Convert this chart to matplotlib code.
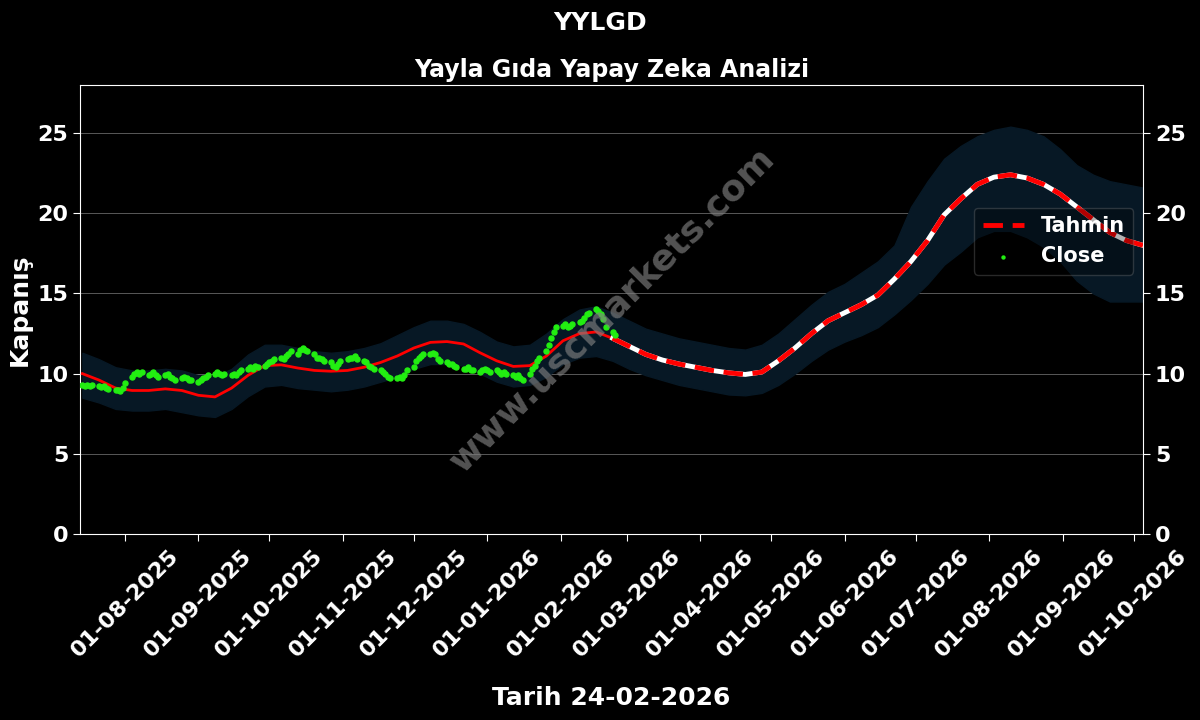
import matplotlib
matplotlib.use("Agg")
import matplotlib.pyplot as plt
import matplotlib.dates as mdates
import pandas as pd

# weekly forecast line and band
pred_start = "2025-07-14"
pred = [10.0, 9.6, 9.1, 8.95, 8.95, 9.05, 8.95, 8.65, 8.55, 9.1,
        9.9, 10.5, 10.55, 10.35, 10.2, 10.15, 10.2, 10.4, 10.7, 11.1,
        11.6, 11.95, 12.0, 11.85, 11.3, 10.8, 10.45, 10.5, 11.1, 12.05,
        12.5, 12.6, 12.2, 11.7, 11.2, 10.85, 10.6, 10.4, 10.2, 10.05,
        9.95, 10.1, 10.8, 11.6, 12.5, 13.3, 13.8, 14.3, 14.9, 15.9,
        17.0, 18.3, 19.9, 20.9, 21.8, 22.25, 22.4, 22.2, 21.8, 21.2,
        20.4, 19.6, 18.8, 18.3, 18.0]
band_hi = [11.3, 10.9, 10.4, 10.2, 10.2, 10.3, 10.2, 9.9, 9.8, 10.3,
           11.2, 11.8, 11.8, 11.6, 11.4, 11.3, 11.4, 11.6, 11.9, 12.4,
           12.9, 13.3, 13.3, 13.1, 12.6, 12.0, 11.7, 11.8, 12.5, 13.4,
           14.0, 14.2, 13.8, 13.3, 12.8, 12.5, 12.2, 12.0, 11.8, 11.6,
           11.5, 11.8, 12.5, 13.4, 14.3, 15.1, 15.6, 16.3, 17.0, 18.0,
           20.4, 22.0, 23.4, 24.2, 24.8, 25.2, 25.4, 25.2, 24.8, 24.0,
           23.0, 22.4, 22.0, 21.8, 21.6]
band_lo = [8.5, 8.2, 7.8, 7.7, 7.7, 7.8, 7.6, 7.4, 7.3, 7.8,
           8.6, 9.2, 9.3, 9.1, 9.0, 8.9, 9.0, 9.2, 9.5, 9.8,
           10.3, 10.6, 10.6, 10.5, 10.0, 9.5, 9.2, 9.3, 9.8, 10.6,
           11.0, 11.1, 10.8, 10.3, 9.9, 9.6, 9.3, 9.1, 8.9, 8.7,
           8.65, 8.8, 9.3, 10.0, 10.8, 11.5, 12.0, 12.4, 12.9, 13.7,
           14.6, 15.6, 16.8, 17.6, 18.5, 18.9, 18.9, 18.5, 17.9, 17.0,
           15.8, 15.0, 14.5, 14.5, 14.5]

# daily close (business days)
close_start = "2025-07-14"
close = [9.3, 9.2, 9.3, 9.25, 9.3,
         9.2, 9.15, 9.2, 9.1, 9.05,
         9.0, 8.95, 8.9, 9.1, 9.4,
         9.8, 10.0, 10.1, 10.0, 10.1,
         9.9, 10.0, 10.1, 9.9, 9.8,
         9.9, 10.0, 9.8, 9.7, 9.6,
         9.7, 9.8, 9.7, 9.6, 9.6,
         9.5, 9.6, 9.7, 9.8, 9.9,
         10.0, 10.1, 10.0, 9.9, 10.0,
         9.9, 10.0, 9.9, 10.1, 10.2,
         10.3, 10.4, 10.3, 10.5, 10.4,
         10.5, 10.6, 10.7, 10.8, 10.9,
         11.0, 10.9, 11.1, 11.2, 11.4,
         11.2, 11.5, 11.6, 11.5, 11.4,
         11.2, 11.0, 11.0, 10.9, 10.8,
         10.7, 10.5, 10.4, 10.6, 10.8,
         10.9, 11.0, 11.0, 11.1, 10.9,
         10.8, 10.7, 10.5, 10.4, 10.3,
         10.2, 10.1, 10.0, 9.8, 9.7,
         9.7, 9.8, 9.7, 9.9, 10.2,
         10.4, 10.8, 11.0, 11.1, 11.2,
         11.2, 11.3, 11.2, 10.9, 10.8,
         10.7, 10.6, 10.6, 10.5, 10.4,
         10.3, 10.3, 10.4, 10.2, 10.2,
         10.1, 10.2, 10.3, 10.2, 10.1,
         10.2, 10.1, 10.0, 10.1, 10.0,
         9.9, 9.8, 9.9, 9.7, 9.6,
         10.0, 10.3, 10.5, 10.8, 11.0,
         11.4, 11.8, 12.2, 12.6, 12.9,
         13.0, 13.1, 12.9, 13.0, 13.1,
         13.2, 13.3, 13.5, 13.7, 13.8,
         14.0, 13.9, 13.7, 13.4, 12.9,
         12.6, 12.4]

pred_dates = pd.date_range(pred_start, periods=len(pred), freq="7D")
close_dates = pd.bdate_range(close_start, periods=len(close))
split = close_dates[-1]

plt.rcParams["font.weight"] = "bold"
fig = plt.figure(figsize=(12, 7.2), dpi=100, facecolor="black")
ax = fig.add_axes([0.0667, 0.2583, 0.8858, 0.6237])
ax.set_facecolor("black")

ax.fill_between(pred_dates, band_lo, band_hi, color="#071825", zorder=1)

s = pd.Series(pred, index=pred_dates)
past = s[s.index <= split + pd.Timedelta(days=7)]
fut = s[s.index >= split - pd.Timedelta(days=1)]
ax.plot(past.index, past.values, color="red", lw=2, zorder=3)
ax.plot(fut.index, fut.values, color="white", lw=3.5, zorder=3)
ax.plot(fut.index, fut.values, color="red", lw=3.5, ls="--", dashes=(4, 2),
        zorder=4, label="Tahmin")
ax.scatter(close_dates, close, color="#22ee11", s=13, zorder=5, label="Close")

ax.set_xlim(pd.Timestamp("2025-07-13"), pd.Timestamp("2026-10-05"))
ax.set_ylim(0, 28)
ax.set_yticks([0, 5, 10, 15, 20, 25])
ax.xaxis.set_major_locator(mdates.MonthLocator(bymonthday=1))
ax.xaxis.set_major_formatter(mdates.DateFormatter("%d-%m-%Y"))
ax.grid(axis="y", color="#666666", lw=0.6)
ax.set_axisbelow(True)

ax.tick_params(colors="white", labelsize=16, length=5, right=True, labelright=True)
plt.setp(ax.get_xticklabels(), rotation=45, ha="center")
for sp in ax.spines.values():
    sp.set_color("white")

ax.set_title("Yayla Gıda Yapay Zeka Analizi", color="white", fontsize=17,
             fontweight="bold", pad=6)
fig.suptitle("YYLGD", color="white", fontsize=18, fontweight="bold", y=0.985)
ax.set_ylabel("Kapanış", color="white", fontsize=18, fontweight="bold", labelpad=4)
ax.set_xlabel("Tarih 24-02-2026", color="white", fontsize=18, fontweight="bold",
              labelpad=18)

leg = ax.legend(loc="upper right", bbox_to_anchor=(0.991, 0.727), borderaxespad=0,
                fontsize=15, facecolor="black", framealpha=0.3, edgecolor="#888888",
                markerscale=0.6)
for t in leg.get_texts():
    t.set_color("white")

fig.text(0.51, 0.57, "www.uscmarkets.com", color="#808080", alpha=0.65,
         fontsize=26, fontweight="bold", rotation=45, ha="center", va="center",
         zorder=10)

fig.savefig("out.png", dpi=100, facecolor="black")
